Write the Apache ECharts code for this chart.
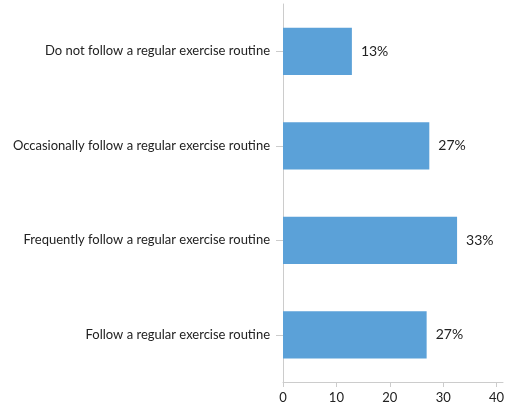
<!DOCTYPE html>
<html>
<head>
<meta charset="utf-8">
<script src="https://cdn.jsdelivr.net/npm/echarts@6/dist/echarts.min.js"></script>
<style>html,body{margin:0;padding:0;background:#fff}#c{width:509px;height:412px}</style>
</head>
<body>
<div id="c"></div>
<script>
const categories = [
  "Follow a regular exercise routine",
  "Frequently follow a regular exercise routine",
  "Occasionally follow a regular exercise routine",
  "Do not follow a regular exercise routine"
];
const values = [26.9, 32.6, 27.4, 12.9];
const valueLabels = ["27%", "33%", "27%", "13%"];
const xTicks = [0, 10, 20, 30, 40];

const chart = echarts.init(document.getElementById('c'), null, {renderer: 'canvas'});
chart.setOption({
  animation: false,
  textStyle: {fontFamily: 'Lato'},
  grid: {left: 283, right: 6, top: 4, bottom: 30, containLabel: false},
  xAxis: {
    type: 'value', min: 0, max: 41.2,
    axisLine: {show: true, lineStyle: {color: '#cccccc', width: 1}},
    axisTick: {show: true, length: 5, customValues: xTicks, lineStyle: {color: '#cccccc'}},
    axisLabel: {customValues: xTicks, color: '#222', fontSize: 13, fontFamily: 'Lato', margin: 9},
    splitLine: {show: false}
  },
  yAxis: {
    type: 'category', data: categories,
    axisLine: {show: true, lineStyle: {color: '#cccccc', width: 1}},
    axisTick: {show: true, length: 7, alignWithLabel: true, lineStyle: {color: '#cccccc'}},
    axisLabel: {color: '#222', fontSize: 13, fontFamily: 'Lato', margin: 13}
  },
  series: [{
    type: 'bar', data: values, barWidth: '50%',
    itemStyle: {color: '#5BA1D8'},
    label: {show: true, position: 'right', distance: 9, color: '#222', fontSize: 14, fontFamily: 'Lato',
      formatter: p => valueLabels[p.dataIndex]}
  }]
});
</script>
</body>
</html>
